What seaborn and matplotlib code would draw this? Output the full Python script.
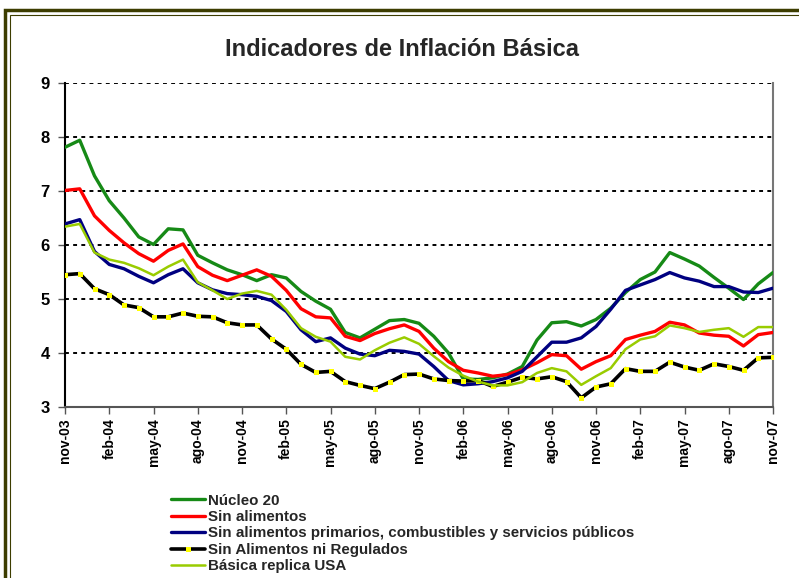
import matplotlib
matplotlib.use("Agg")
import matplotlib.pyplot as plt
import seaborn as sns
import numpy as np
import pandas as pd
from matplotlib.patches import Rectangle

months = ["nov-03","dic-03","ene-04","feb-04","mar-04","abr-04","may-04","jun-04","jul-04","ago-04","sep-04","oct-04",
          "nov-04","dic-04","ene-05","feb-05","mar-05","abr-05","may-05","jun-05","jul-05","ago-05","sep-05","oct-05",
          "nov-05","dic-05","ene-06","feb-06","mar-06","abr-06","may-06","jun-06","jul-06","ago-06","sep-06","oct-06",
          "nov-06","dic-06","ene-07","feb-07","mar-07","abr-07","may-07","jun-07","jul-07","ago-07","sep-07","oct-07",
          "nov-07"]

nucleo20 = [7.81, 7.94, 7.28, 6.82, 6.50, 6.15, 6.01, 6.30, 6.28, 5.81, 5.67, 5.54, 5.45, 5.34, 5.45, 5.39,
            5.14, 4.96, 4.81, 4.38, 4.28, 4.44, 4.60, 4.62, 4.55, 4.31, 4.00, 3.52, 3.51, 3.54, 3.61, 3.75,
            4.24, 4.56, 4.58, 4.50, 4.62, 4.83, 5.12, 5.36, 5.50, 5.86, 5.74, 5.61, 5.40, 5.20, 4.99, 5.28, 5.49]
sin_alimentos = [7.01, 7.04, 6.54, 6.27, 6.04, 5.84, 5.70, 5.90, 6.02, 5.60, 5.44, 5.34, 5.44, 5.54, 5.42, 5.16,
                 4.82, 4.67, 4.65, 4.31, 4.23, 4.36, 4.45, 4.52, 4.40, 4.09, 3.84, 3.68, 3.63, 3.57, 3.60, 3.69,
                 3.82, 3.97, 3.95, 3.70, 3.84, 3.95, 4.25, 4.33, 4.40, 4.57, 4.52, 4.37, 4.33, 4.31, 4.13, 4.34, 4.38]
sin_prim = [6.39, 6.47, 5.88, 5.64, 5.56, 5.42, 5.30, 5.45, 5.56, 5.30, 5.17, 5.10, 5.08, 5.05, 4.97, 4.77,
            4.43, 4.21, 4.28, 4.09, 3.98, 3.95, 4.05, 4.03, 3.98, 3.75, 3.49, 3.41, 3.43, 3.47, 3.54, 3.66,
            3.93, 4.20, 4.20, 4.28, 4.49, 4.81, 5.16, 5.26, 5.36, 5.49, 5.39, 5.33, 5.23, 5.23, 5.13, 5.12, 5.20]
sin_alim_reg = [5.45, 5.47, 5.19, 5.08, 4.89, 4.84, 4.67, 4.67, 4.74, 4.68, 4.67, 4.56, 4.52, 4.52, 4.26, 4.07,
                3.79, 3.64, 3.66, 3.47, 3.40, 3.34, 3.46, 3.60, 3.61, 3.52, 3.49, 3.48, 3.49, 3.38, 3.46, 3.55,
                3.52, 3.56, 3.47, 3.17, 3.37, 3.43, 3.71, 3.66, 3.66, 3.83, 3.74, 3.68, 3.80, 3.75, 3.68, 3.91, 3.92]
basica_usa = [6.34, 6.39, 5.86, 5.73, 5.67, 5.57, 5.44, 5.60, 5.73, 5.31, 5.16, 5.00, 5.10, 5.15, 5.08, 4.80,
              4.46, 4.30, 4.21, 3.93, 3.88, 4.05, 4.19, 4.29, 4.17, 3.94, 3.73, 3.58, 3.47, 3.40, 3.40, 3.46,
              3.63, 3.72, 3.66, 3.41, 3.57, 3.72, 4.07, 4.25, 4.31, 4.51, 4.46, 4.39, 4.43, 4.46, 4.30, 4.48, 4.48]

labels = ["Núcleo 20", "Sin alimentos",
          "Sin alimentos primarios, combustibles y servicios públicos",
          "Sin Alimentos ni Regulados", "Básica replica USA"]
title = "Indicadores de Inflación Básica"

sns.set_style("white")
plt.rcParams['font.family'] = ['Liberation Sans', 'DejaVu Sans']

fig = plt.figure(figsize=(7.99, 5.78), dpi=100)
ax = fig.add_axes([65/799, 1-407/578, (773-65)/799, (407-83)/578])

idx = np.arange(len(months))
series = [nucleo20, sin_alimentos, sin_prim, sin_alim_reg, basica_usa]
colors = ["#168a16", "#ff0000", "#000080", "#000000", "#99cc00"]
widths = [2.4, 2.4, 2.4, 2.6, 1.8]

for s, lab, c, w in zip(series, labels, colors, widths):
    if lab == "Sin Alimentos ni Regulados":
        sns.lineplot(x=idx, y=s, ax=ax, color=c, lw=w, label=lab, marker="s",
                     markersize=3.6, markerfacecolor="#ffff00", markeredgecolor="#ffff00",
                     markeredgewidth=0, zorder=3)
    else:
        sns.lineplot(x=idx, y=s, ax=ax, color=c, lw=w, label=lab, zorder=3)

ax.set_xlim(0, len(months) - 1)
ax.set_ylim(3, 9)
ax.set_yticks([3, 4, 5, 6, 7, 8, 9])
ax.set_yticklabels(["3", "4", "5", "6", "7", "8", "9"], fontsize=12, fontweight="bold")
ax.set_xticks(idx[::3])
ax.set_xticklabels(months[::3], rotation=90, fontsize=10, fontweight="bold")
for y in [4, 5, 6, 7, 8, 9]:
    ax.axhline(y, color="black", lw=1.4, ls=(0, (2, 2.2)), zorder=1)
ax.tick_params(axis="both", which="both", direction="out", length=5, width=1, colors="#555555",
               labelcolor="black", bottom=True, left=True)
ax.tick_params(axis="x", pad=3)
ax.tick_params(axis="y", pad=6)
ax.spines["top"].set_visible(False)
ax.spines["left"].set_color("black")
ax.spines["left"].set_linewidth(1.5)
ax.spines["bottom"].set_color("#555555")
ax.spines["bottom"].set_linewidth(1.5)
ax.spines["right"].set_color("#777777")
ax.spines["right"].set_linewidth(1.5)
ax.set_xlabel("")
ax.set_ylabel("")

handles, labs = ax.get_legend_handles_labels()
ax.get_legend().remove()
fig.legend(handles, labs, loc="upper left", bbox_to_anchor=(163/799, 1-486/578), frameon=False,
           prop={"weight": "bold", "size": 10.9}, handlelength=2.25, handletextpad=0.2,
           labelspacing=0.16, borderpad=0)

fig.text(402/799, 1-50/578, title, ha="center", va="center", fontsize=17, fontweight="bold")

fig.patches.append(Rectangle((5/799, -0.01), 1.5, 1-10/578 + 0.01, transform=fig.transFigure,
                             fill=False, edgecolor="#3d3d00", lw=2.5, zorder=10))
fig.patches.append(Rectangle((10/799, -0.01), 1.5, 1-15/578 + 0.01, transform=fig.transFigure,
                             fill=False, edgecolor="#3d3d00", lw=0.8, zorder=10))

fig.savefig("out.png", dpi=100)
